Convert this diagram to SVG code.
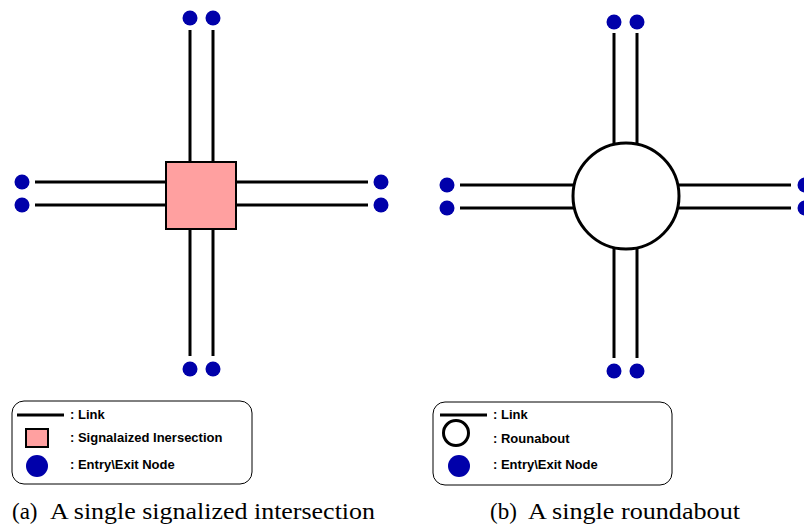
<svg xmlns="http://www.w3.org/2000/svg" width="804" height="532" viewBox="0 0 804 532">
  <style>
    .road { stroke: #000; stroke-width: 3; fill: none; }
    .node { fill: #0000AA; }
    .junction { fill: #FFA0A0; stroke: #000; stroke-width: 2; }
    .ring { fill: #fff; stroke: #000; stroke-width: 3; }
    .box { fill: #fff; stroke: #000; stroke-width: 1; }
    .lg { font-family: "Liberation Sans", Arial, sans-serif; font-weight: bold; font-size: 13px; fill: #000; }
    .cap { font-family: "Liberation Serif", "Times New Roman", serif; font-size: 23px; fill: #000; }
  </style>
  <rect width="804" height="532" fill="#fff"/>

  <!-- (a) signalized intersection: links -->
  <g id="links-a">
    <line class="road" x1="190" y1="30" x2="190" y2="162"/>
    <line class="road" x1="213" y1="30" x2="213" y2="162"/>
    <line class="road" x1="190" y1="229" x2="190" y2="356"/>
    <line class="road" x1="213" y1="229" x2="213" y2="356"/>
    <line class="road" x1="35" y1="182" x2="166" y2="182"/>
    <line class="road" x1="35" y1="205" x2="166" y2="205"/>
    <line class="road" x1="236" y1="182" x2="368" y2="182"/>
    <line class="road" x1="236" y1="205" x2="368" y2="205"/>
  </g>
  <g id="intersection-a">
    <rect class="junction" x="166" y="162" width="70" height="67"/>
  </g>
  <g id="nodes-a">
    <circle class="node" cx="190" cy="18" r="7.5"/>
    <circle class="node" cx="213" cy="18" r="7.5"/>
    <circle class="node" cx="190" cy="369" r="7.5"/>
    <circle class="node" cx="213" cy="369" r="7.5"/>
    <circle class="node" cx="22" cy="182" r="7.5"/>
    <circle class="node" cx="22" cy="205" r="7.5"/>
    <circle class="node" cx="381" cy="182" r="7.5"/>
    <circle class="node" cx="381" cy="205" r="7.5"/>
  </g>

  <!-- (a) legend -->
  <g id="legend-a">
    <rect class="box" x="12" y="401" width="240" height="83" rx="12"/>
    <line class="road" x1="17" y1="415" x2="64" y2="415"/>
    <text class="lg" x="70" y="419">: Link</text>
    <rect class="junction" x="26" y="429" width="22" height="18"/>
    <text class="lg" x="70" y="442">: Signalaized Inersection</text>
    <circle class="node" cx="37" cy="466" r="11"/>
    <text class="lg" x="70" y="469">: Entry\Exit Node</text>
  </g>

  <!-- (b) roundabout: links -->
  <g id="links-b">
    <line class="road" x1="614" y1="33" x2="614" y2="148"/>
    <line class="road" x1="637" y1="33" x2="637" y2="148"/>
    <line class="road" x1="614" y1="245" x2="614" y2="358"/>
    <line class="road" x1="637" y1="245" x2="637" y2="358"/>
    <line class="road" x1="460" y1="185" x2="576" y2="185"/>
    <line class="road" x1="460" y1="208" x2="576" y2="208"/>
    <line class="road" x1="676" y1="185" x2="791" y2="185"/>
    <line class="road" x1="676" y1="208" x2="791" y2="208"/>
  </g>
  <g id="roundabout-b">
    <circle class="ring" cx="626" cy="196" r="53"/>
  </g>
  <g id="nodes-b">
    <circle class="node" cx="614" cy="22" r="7.5"/>
    <circle class="node" cx="637" cy="22" r="7.5"/>
    <circle class="node" cx="614" cy="371" r="7.5"/>
    <circle class="node" cx="637" cy="371" r="7.5"/>
    <circle class="node" cx="447" cy="185" r="7.5"/>
    <circle class="node" cx="447" cy="208" r="7.5"/>
    <circle class="node" cx="805" cy="185" r="7.5"/>
    <circle class="node" cx="805" cy="208" r="7.5"/>
  </g>

  <!-- (b) legend -->
  <g id="legend-b">
    <rect class="box" x="433" y="402" width="239" height="83" rx="12"/>
    <line class="road" x1="440" y1="415" x2="487" y2="415"/>
    <text class="lg" x="493" y="419">: Link</text>
    <circle class="ring" cx="456" cy="433" r="12.5"/>
    <text class="lg" x="493" y="443">: Rounabout</text>
    <circle class="node" cx="459" cy="466" r="11"/>
    <text class="lg" x="493" y="469">: Entry\Exit Node</text>
  </g>

  <!-- captions -->
  <text class="cap" x="12" y="519">(a)</text>
  <text class="cap" x="50" y="519" textLength="325" lengthAdjust="spacingAndGlyphs">A single signalized intersection</text>
  <text class="cap" x="490" y="519">(b)</text>
  <text class="cap" x="528" y="519" textLength="212" lengthAdjust="spacingAndGlyphs">A single roundabout</text>
</svg>
